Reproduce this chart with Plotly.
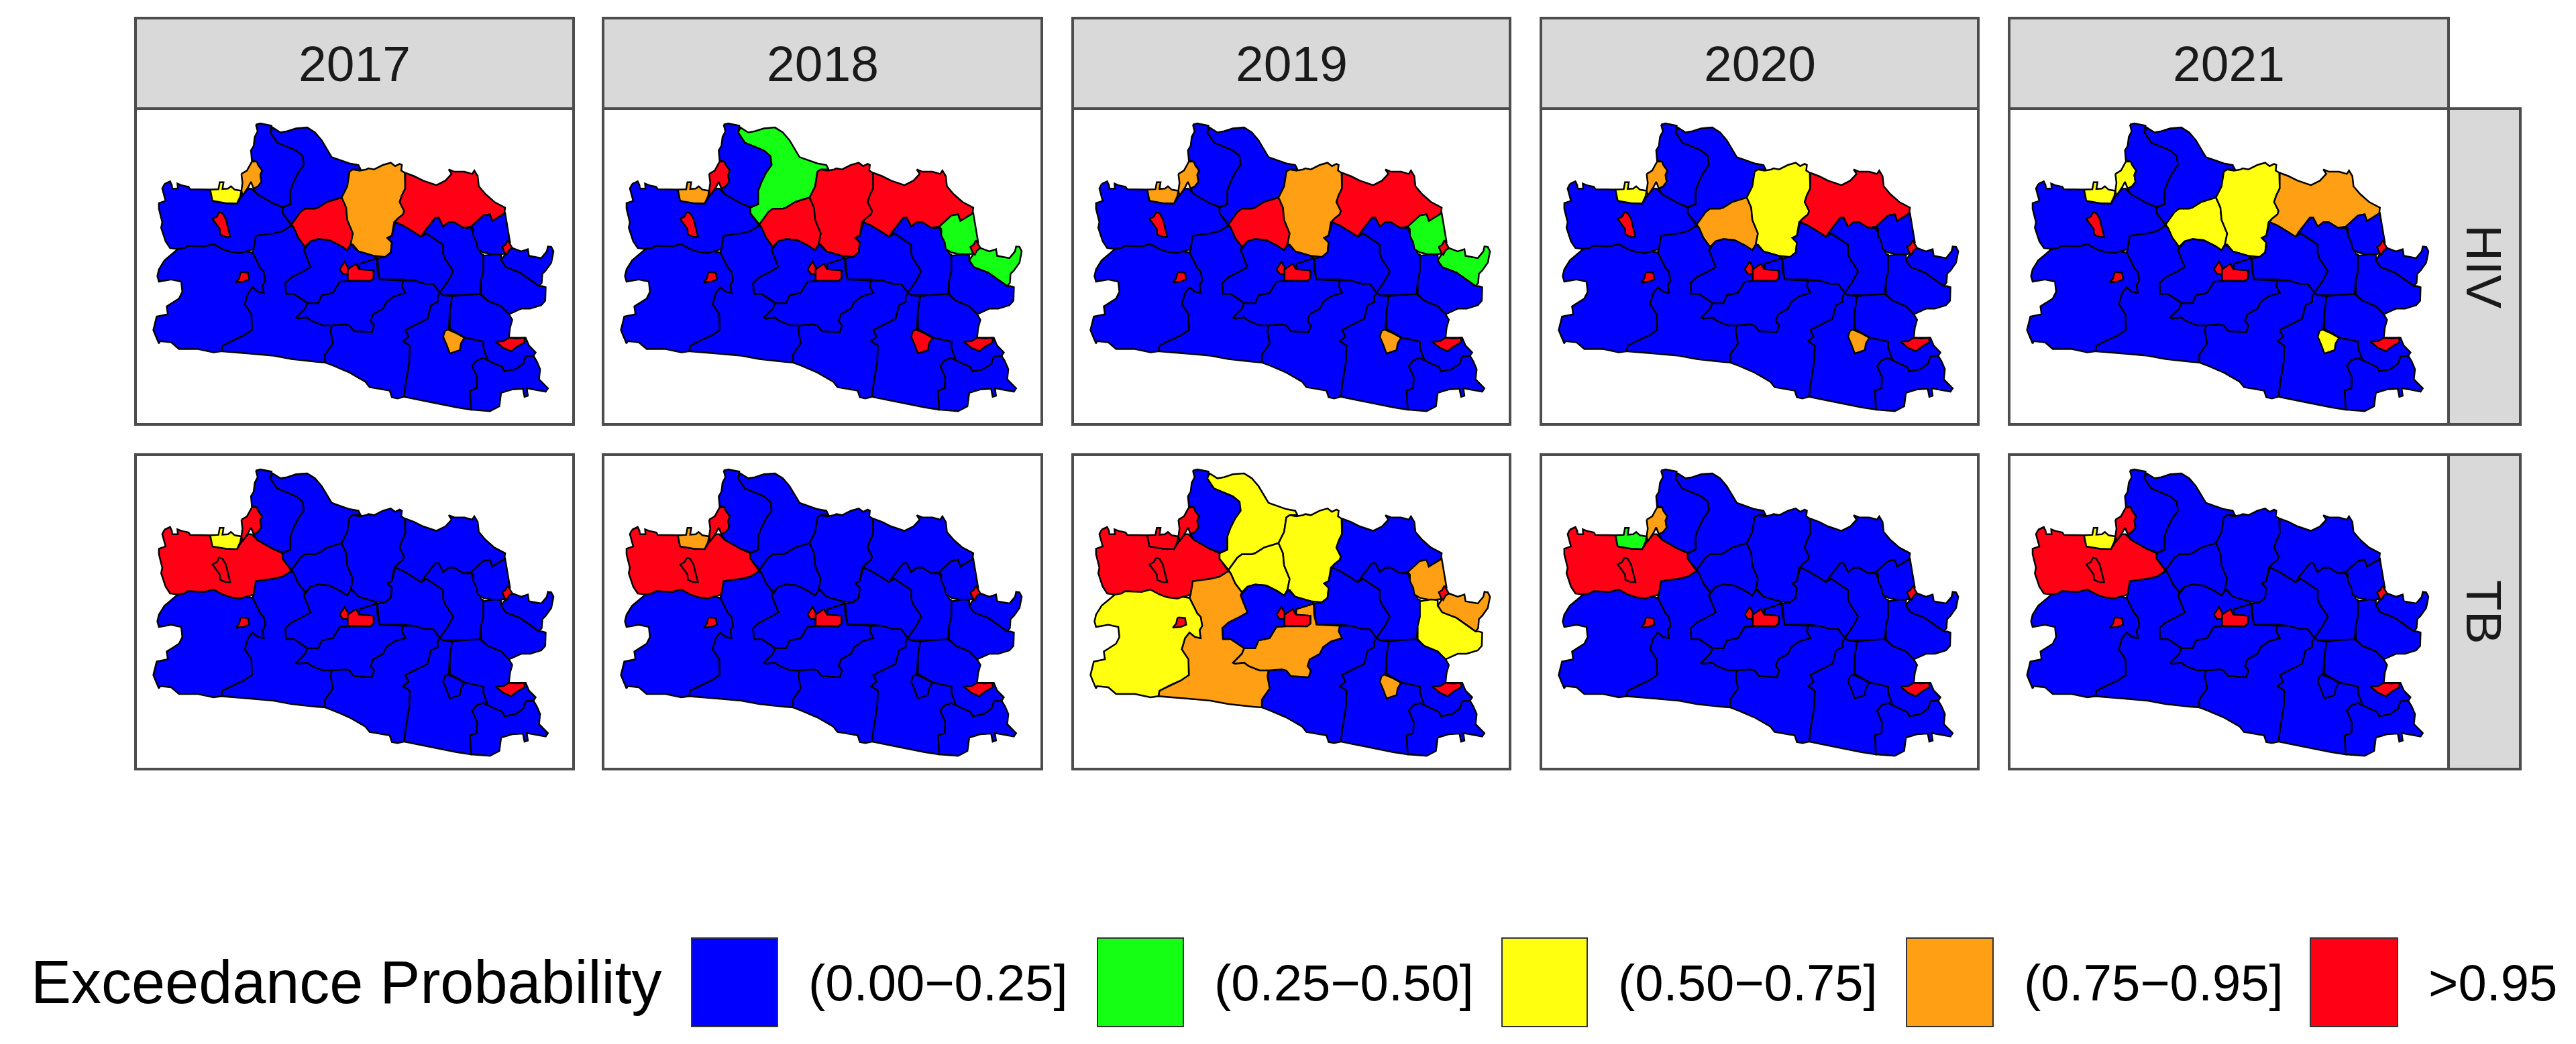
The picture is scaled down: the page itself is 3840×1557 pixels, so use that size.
import plotly.graph_objects as go
from plotly.subplots import make_subplots

# exceedance classes
class_labels = ["(0.00\u22120.25]", "(0.25\u22120.50]", "(0.50\u22120.75]", "(0.75\u22120.95]", ">0.95"]
class_colors = ["#0000FF", "#14FF14", "#FFFF0F", "#FFA014", "#FF0014"]
years = ["2017", "2018", "2019", "2020", "2021"]
diseases = ["HIV", "TB"]

# district outlines, map units
d01 = [(70,270),(95,258),(103,275),(105,290),(130,290),(128,268),(145,275),(178,282),(185,293),(275,295),(285,345),(345,355),(395,357),(415,325),(445,290),(460,290),(485,315),(520,335),(555,355),(600,375),(600,400),(640,455),(600,480),(560,490),(480,500),(470,560),(435,570),(410,578),(365,572),(330,560),(290,538),(250,548),(175,545),(160,555),(130,560),(95,555),(75,525),(55,465),(60,440),(45,380),(45,355),(75,345),(60,290)]
d02 = [(275,295),(312,293),(318,262),(335,262),(330,292),(355,290),(368,280),(385,295),(415,300),(410,325),(395,357),(345,355),(285,345)]
d03 = [(415,225),(440,210),(462,170),(485,170),(490,185),(508,210),(500,230),(505,260),(490,280),(470,290),(458,260),(445,285),(420,322),(415,300),(420,265)]
d04 = [(480,5),(500,0),(550,10),(545,40),(575,85),(610,100),(660,120),(690,145),(695,185),(670,220),(650,260),(635,300),(635,360),(600,372),(555,355),(520,335),(485,315),(470,292),(490,280),(505,260),(500,230),(508,210),(490,185),(485,170),(462,165),(458,120),(470,100),(475,60),(488,35)]
d05 = [(545,40),(555,18),(590,40),(620,35),(660,22),(710,18),(745,40),(775,75),(820,150),(860,165),(900,178),(940,185),(950,205),(915,205),(900,215),(890,280),(865,330),(800,350),(760,375),(745,380),(700,380),(680,395),(640,450),(600,400),(600,375),(635,360),(635,300),(650,260),(670,220),(695,185),(690,145),(660,120),(610,100),(575,85)]
d06 = [(640,450),(680,395),(700,380),(745,380),(760,375),(800,350),(865,330),(885,375),(890,430),(915,490),(905,540),(890,565),(860,545),(810,520),(760,515),(725,525),(700,550),(670,510),(650,465)]
d07 = [(915,205),(945,210),(975,205),(985,200),(1010,205),(1050,185),(1085,175),(1105,190),(1125,180),(1135,185),(1132,210),(1148,220),(1150,290),(1135,320),(1125,350),(1145,390),(1140,405),(1115,425),(1100,440),(1090,500),(1070,510),(1090,530),(1085,575),(1060,595),(1010,590),(975,580),(940,570),(915,540),(905,540),(915,490),(890,430),(885,375),(865,330),(890,280),(900,215)]
d08 = [(1150,220),(1190,235),(1230,255),(1290,275),(1330,255),(1358,225),(1345,205),(1370,215),(1415,215),(1450,225),(1460,210),(1475,235),(1480,280),(1510,315),(1550,350),(1598,375),(1595,400),(1540,435),(1530,405),(1500,410),(1445,460),(1410,465),(1370,440),(1345,440),(1320,460),(1300,420),(1285,420),(1250,465),(1230,490),(1220,505),(1190,485),(1140,455),(1105,440),(1115,425),(1140,405),(1145,390),(1125,350),(1135,320),(1150,290)]
d09 = [(1105,440),(1140,455),(1190,485),(1220,505),(1245,490),(1320,540),(1320,580),(1330,605),(1360,650),(1365,660),(1340,705),(1305,755),(1275,715),(1240,715),(1190,700),(1140,695),(1035,695),(1030,660),(1025,600),(1060,595),(1085,575),(1090,530),(1070,510),(1090,500)]
d10 = [(1230,490),(1250,465),(1285,420),(1300,420),(1320,460),(1345,440),(1370,440),(1410,465),(1445,465),(1460,500),(1475,540),(1490,580),(1500,585),(1500,660),(1490,700),(1485,762),(1400,765),(1320,765),(1305,755),(1340,705),(1365,660),(1360,650),(1330,605),(1320,580),(1320,540),(1245,490)]
d11 = [(1445,460),(1500,410),(1530,405),(1540,435),(1598,400),(1605,440),(1615,500),(1620,530),(1590,550),(1600,580),(1550,585),(1500,575),(1475,560),(1470,530),(1455,500),(1455,470)]
d12 = [(1600,580),(1615,565),(1630,555),(1670,570),(1700,560),(1705,590),(1760,600),(1785,570),(1790,548),(1805,550),(1815,570),(1805,620),(1780,655),(1765,670),(1762,710),(1750,725),(1730,710),(1700,690),(1665,665),(1640,655),(1600,640),(1580,610)]
d13 = [(1500,590),(1550,582),(1580,585),(1580,610),(1600,640),(1640,655),(1665,665),(1700,690),(1730,710),(1750,725),(1765,725),(1780,730),(1778,790),(1760,810),(1710,825),(1670,825),(1615,850),(1580,815),(1520,790),(1490,760),(1490,700),(1500,660)]
d14 = [(1360,770),(1400,765),(1485,760),(1520,790),(1580,815),(1615,850),(1630,875),(1620,910),(1615,955),(1690,955),(1705,990),(1735,1020),(1725,1035),(1690,1038),(1680,1070),(1645,1095),(1595,1105),(1585,1085),(1550,1070),(1520,1055),(1500,1000),(1500,972),(1420,955),(1350,915),(1350,835)]
d15 = [(1450,1080),(1470,1055),(1500,1045),(1520,1055),(1550,1070),(1585,1085),(1595,1105),(1645,1095),(1680,1070),(1690,1038),(1725,1035),(1740,1060),(1755,1095),(1750,1140),(1790,1180),(1780,1195),(1730,1185),(1695,1180),(1700,1213),(1685,1218),(1678,1182),(1630,1185),(1580,1200),(1572,1260),(1530,1282),(1445,1275),(1440,1190),(1470,1180),(1472,1130)]
d16 = [(1305,755),(1320,765),(1360,770),(1350,835),(1345,915),(1420,955),(1500,972),(1500,1000),(1520,1055),(1500,1045),(1470,1055),(1450,1080),(1472,1130),(1470,1180),(1440,1190),(1445,1275),(1380,1265),(1300,1250),(1230,1235),(1145,1218),(1150,1170),(1168,1060),(1170,990),(1140,970),(1165,950),(1150,920),(1200,895),(1250,870),(1265,810),(1295,795),(1295,770)]
d17 = [(1140,700),(1190,700),(1240,715),(1275,715),(1305,755),(1295,770),(1295,795),(1265,810),(1250,870),(1200,895),(1150,920),(1165,950),(1140,970),(1170,990),(1168,1060),(1150,1170),(1145,1218),(1115,1225),(1090,1220),(1080,1190),(990,1175),(970,1150),(900,1110),(830,1080),(790,1065),(790,1030),(825,980),(815,925),(820,900),(880,895),(900,900),(920,925),(1000,930),(1010,900),(995,880),(1005,850),(1050,825),(1065,795),(1100,770),(1150,755),(1135,725)]
d18 = [(660,865),(700,825),(710,800),(760,800),(775,765),(825,755),(855,705),(892,702),(994,702),(1008,690),(1008,655),(943,650),(945,625),(1023,600),(1025,650),(1035,695),(1140,700),(1135,725),(1150,755),(1100,770),(1065,795),(1050,825),(1005,850),(995,880),(1010,900),(1000,930),(920,925),(900,900),(880,895),(820,900),(780,900),(730,880),(710,865),(670,870)]
d19 = [(725,525),(760,515),(810,520),(860,545),(890,565),(905,540),(915,545),(940,570),(975,580),(1010,590),(1025,600),(945,625),(943,650),(892,650),(892,702),(855,705),(825,755),(775,765),(760,800),(710,800),(690,785),(650,760),(615,760),(612,710),(640,685),(690,660),(725,640),(705,590),(695,565)]
d20 = [(480,500),(560,490),(600,480),(640,455),(650,465),(670,510),(700,550),(695,565),(705,590),(725,640),(690,660),(640,685),(612,710),(615,760),(650,760),(690,785),(710,800),(700,825),(660,865),(670,870),(710,865),(730,880),(780,900),(820,900),(815,925),(825,980),(790,1030),(790,1065),(750,1062),(640,1050),(560,1035),(450,1025),(380,1020),(325,1015),(330,990),(380,965),(425,945),(462,920),(460,850),(430,805),(445,755),(465,730),(490,750),(515,755),(510,720),(522,700),(515,660),(500,645),(480,605),(465,575),(470,560)]
d21 = [(130,560),(160,555),(175,545),(250,548),(290,538),(330,560),(365,572),(410,578),(435,570),(465,575),(480,605),(500,645),(515,660),(522,700),(510,720),(515,755),(490,750),(465,730),(445,755),(430,805),(460,850),(462,920),(425,945),(380,965),(330,990),(325,1015),(290,1020),(220,1005),(135,1005),(100,975),(50,970),(45,980),(30,945),(20,920),(35,860),(85,850),(80,815),(135,780),(150,750),(145,705),(100,695),(45,705),(38,680),(45,650),(70,610)]
# cities, drawn on top
c01 = [(315,395),(330,400),(345,425),(355,465),(365,505),(345,505),(320,495),(318,470),(295,440),(285,425),(305,415)]
c02 = [(415,662),(445,665),(450,695),(425,705),(390,708),(405,690),(410,668)]
c03 = [(856,650),(878,615),(892,640),(892,670),(870,670)]
c04 = [(892,650),(929,625),(943,650),(1008,655),(1008,690),(994,702),(892,700)]
c05 = [(1340,918),(1380,935),(1415,955),(1400,980),(1395,1010),(1350,1025),(1335,985),(1320,950),(1328,925)]
c06 = [(1555,972),(1590,970),(1615,955),(1650,958),(1685,955),(1685,975),(1650,995),(1625,1015),(1590,1000)]
c07 = [(1610,520),(1625,545),(1630,555),(1615,565),(1605,585),(1595,575),(1585,550),(1600,540)]

districts = [d01,d02,d03,d04,d05,d06,d07,d08,d09,d10,d11,d12,d13,d14,d15,d16,d17,d18,d19,d20,d21,c01,c02,c03,c04,c05,c06,c07]

# class index per district, same order as above
hiv_2017 = [0,2,3,0,0,4,3,4,0,0,0,0,0,0,0,0,0,0,0,0,0,4,4,4,4,3,4,4]
hiv_2018 = [0,3,4,0,1,4,4,4,0,0,1,1,0,0,0,0,0,0,0,0,0,4,4,4,4,4,4,4]
hiv_2019 = [0,3,3,0,0,4,3,4,0,0,1,1,0,0,0,0,0,0,0,0,0,4,4,4,4,3,4,4]
hiv_2020 = [0,2,3,0,0,3,2,4,0,0,0,0,0,0,0,0,0,0,0,0,0,4,4,4,4,3,4,4]
hiv_2021 = [0,2,2,0,0,2,2,3,0,0,0,0,0,0,0,0,0,0,0,0,0,4,4,4,4,2,4,4]
tb_2017 = [4,2,4,0,0,0,0,0,0,0,0,0,0,0,0,0,0,0,0,0,0,4,4,4,4,0,4,4]
tb_2018 = [4,3,4,0,0,0,0,0,0,0,0,0,0,0,0,0,0,0,0,0,0,4,4,4,4,0,4,4]
tb_2019 = [4,4,4,0,2,2,2,0,0,0,3,3,2,0,0,0,0,3,0,3,2,4,4,4,4,3,4,4]
tb_2020 = [4,1,3,0,0,0,0,0,0,0,0,0,0,0,0,0,0,0,0,0,0,4,4,4,4,0,4,4]
tb_2021 = [4,2,4,0,0,0,0,0,0,0,0,0,0,0,0,0,0,0,0,0,0,4,4,4,4,0,4,4]
panels = [[hiv_2017,hiv_2018,hiv_2019,hiv_2020,hiv_2021],[tb_2017,tb_2018,tb_2019,tb_2020,tb_2021]]

W, H = 3840, 1557
col_edges = [(202,855),(899,1553),(1599,2251),(2297,2949),(2995,3650)]
row_edges = [(162,633),(678,1147)]
strip_top = 27
strip_right = 3757
legend_keys = [(1031,1159),(1636,1764),(2239,2366),(2842,2971),(3444,3574)]
legend_y = (1399,1531)
font = "Liberation Sans"
edge = "#4D4D4D"

def px(x):
    return x / W

def py(y):
    return 1 - y / H

fig = make_subplots(rows=2, cols=5)

for r in range(2):
    for c in range(5):
        classes = panels[r][c]
        for poly, k in zip(districts, classes):
            xs = [p[0] for p in poly] + [poly[0][0]]
            ys = [-p[1] for p in poly] + [-poly[0][1]]
            fig.add_trace(go.Scatter(x=xs, y=ys, mode="lines", fill="toself", fillcolor=class_colors[k],
                                     line=dict(color="black", width=2.5), showlegend=False, hoverinfo="skip"),
                          row=r+1, col=c+1)
        fig.update_xaxes(domain=[px(col_edges[c][0]), px(col_edges[c][1])], range=[-60, 1905], visible=False, row=r+1, col=c+1)
        fig.update_yaxes(domain=[py(row_edges[r][1]), py(row_edges[r][0])], range=[-1341, 66], visible=False, row=r+1, col=c+1)
        fig.add_shape(type="rect", xref="paper", yref="paper", x0=px(col_edges[c][0]), x1=px(col_edges[c][1]),
                      y0=py(row_edges[r][1]), y1=py(row_edges[r][0]), line=dict(color=edge, width=4), layer="above")

# strips
for c, yr in enumerate(years):
    fig.add_shape(type="rect", xref="paper", yref="paper", x0=px(col_edges[c][0]), x1=px(col_edges[c][1]),
                  y0=py(row_edges[0][0]), y1=py(strip_top), fillcolor="#D9D9D9", line=dict(color=edge, width=4))
    fig.add_annotation(xref="paper", yref="paper", x=px(sum(col_edges[c])/2), y=py((strip_top+row_edges[0][0])/2),
                       xanchor="center", yanchor="middle", text=yr, showarrow=False,
                       font=dict(family=font, size=75, color="#1A1A1A"))
for r, name in enumerate(diseases):
    fig.add_shape(type="rect", xref="paper", yref="paper", x0=px(col_edges[4][1]), x1=px(strip_right),
                  y0=py(row_edges[r][1]), y1=py(row_edges[r][0]), fillcolor="#D9D9D9", line=dict(color=edge, width=4))
    fig.add_annotation(xref="paper", yref="paper", x=px((col_edges[4][1]+strip_right)/2), y=py(sum(row_edges[r])/2),
                       xanchor="center", yanchor="middle", text=name, textangle=90, showarrow=False,
                       font=dict(family=font, size=75, color="#1A1A1A"))

# legend
fig.add_annotation(xref="paper", yref="paper", x=px(44), y=py(1465), xanchor="left", yanchor="middle",
                   text="Exceedance Probability", showarrow=False, font=dict(family=font, size=90, color="black"))
for (x0, x1), col, lab in zip(legend_keys, class_colors, class_labels):
    fig.add_shape(type="rect", xref="paper", yref="paper", x0=px(x0), x1=px(x1), y0=py(legend_y[1]), y1=py(legend_y[0]),
                  fillcolor=col, line=dict(color="#333333", width=2))
    fig.add_annotation(xref="paper", yref="paper", x=px(x1+44), y=py(1465), xanchor="left", yanchor="middle", text=lab,
                       showarrow=False, font=dict(family=font, size=76, color="black"))

fig.update_layout(width=W, height=H, margin=dict(l=0, r=0, t=0, b=0), paper_bgcolor="white", plot_bgcolor="white")
fig.write_html("out.html", config={"displayModeBar": False}, post_script="document.body.style.margin='0';")
